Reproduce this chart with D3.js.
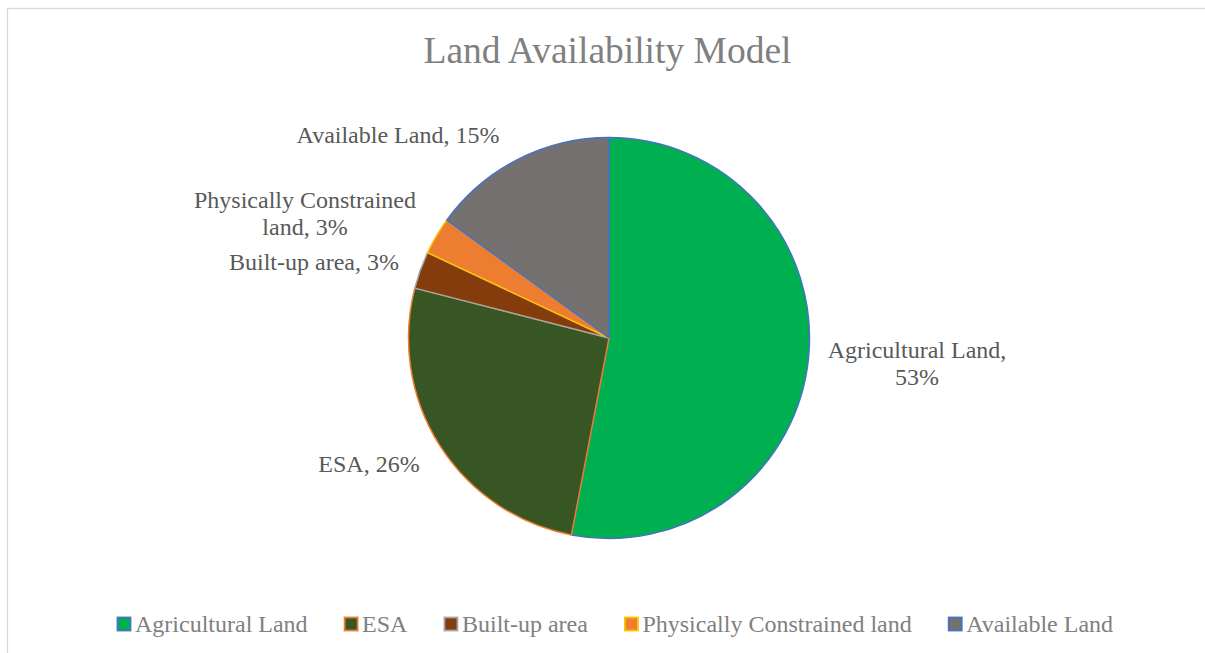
<!DOCTYPE html>
<html>
<head>
<meta charset="utf-8">
<script src="https://cdn.jsdelivr.net/npm/d3@7/dist/d3.min.js"></script>
<style>
  html, body { margin: 0; padding: 0; background: #fff; }
  svg { display: block; }
  svg text { font-family: "Liberation Serif", "Times New Roman", "DejaVu Serif", serif; }
</style>
</head>
<body>
<svg id="chart" width="1205" height="653"></svg>
<script>
// ---- data ----
const categories = ["Agricultural Land", "ESA", "Built-up area", "Physically Constrained land", "Available Land"];
const values = [53, 26, 3, 3, 15];
const labelLines = [
  ["Agricultural Land,", "53%"],
  ["ESA, 26%"],
  ["Built-up area, 3%"],
  ["Physically Constrained", "land, 3%"],
  ["Available Land, 15%"]
];
const fills = ["#00b050", "#375623", "#843c0c", "#ed7d31", "#767171"];
const strokes = ["#4472c4", "#ed7d31", "#a5a5a5", "#ffc000", "#4472c4"];
const title = "Land Availability Model";

// ---- layout ----
const cx = 609, cy = 338, R = 200.5;
// label anchor (center x, first baseline y) per slice
const labelPos = [[917, 358], [369, 472], [314, 270], [305, 208], [398, 143]];

const svg = d3.select("#chart");
svg.append("rect").attr("x", 7.5).attr("y", 8.5).attr("width", 1400).attr("height", 800)
  .attr("fill", "#fff").attr("stroke", "#d9d9d9").attr("stroke-width", 1.3);

svg.append("text").attr("x", 607.5).attr("y", 63).attr("text-anchor", "middle")
  .attr("font-size", 37.5).attr("fill", "#808080").text(title);

const data = categories.map((c, i) => ({ cat: c, value: values[i], i }));
const pie = d3.pie().value(d => d.value).sort(null);
const arc = d3.arc().innerRadius(0).outerRadius(R);
const g = svg.append("g").attr("transform", `translate(${cx},${cy})`);
g.selectAll("path").data(pie(data)).join("path")
  .attr("d", arc)
  .attr("fill", d => fills[d.data.i])
  .attr("stroke", d => strokes[d.data.i])
  .attr("stroke-width", 1.5)
  .attr("stroke-linejoin", "round");

// data labels
const lab = svg.append("g").attr("font-size", 24).attr("fill", "#595959").attr("text-anchor", "middle");
data.forEach((d, i) => {
  const t = lab.append("text").attr("x", labelPos[i][0]).attr("y", labelPos[i][1]);
  labelLines[i].forEach((ln, k) => {
    t.append("tspan").attr("x", labelPos[i][0]).attr("dy", k === 0 ? 0 : 26.5).text(ln);
  });
});

// legend
const leg = svg.append("g").attr("font-size", 24).attr("fill", "#808080");
let x = 117.5;
const legY = 624;
categories.forEach((c, i) => {
  leg.append("rect").attr("x", x).attr("y", legY - 6.5).attr("width", 13).attr("height", 13)
    .attr("fill", fills[i]).attr("stroke", strokes[i]).attr("stroke-width", 1.8);
  const t = leg.append("text").attr("x", x + 17.5).attr("y", legY + 8).text(c);
  const w = t.node().getComputedTextLength();
  x = x + 17.5 + w + 37;
});
</script>
</body>
</html>
